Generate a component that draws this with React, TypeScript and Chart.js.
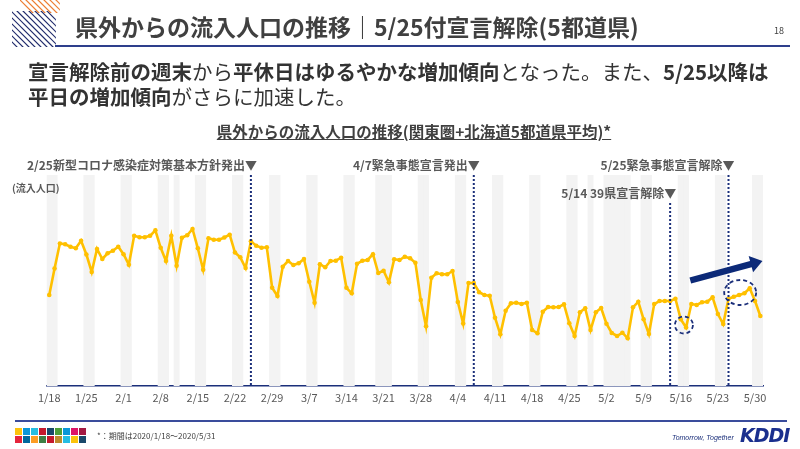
import React, { useEffect, useRef } from "react";
import { Chart, registerables } from "chart.js";

Chart.register(...registerables);

// Daily categories 1/18 .. 5/31 (2020)
const monthSpans: [number, number, number][] = [
  [1, 18, 31],
  [2, 1, 29],
  [3, 1, 31],
  [4, 1, 30],
  [5, 1, 31],
];
const days: string[] = monthSpans.flatMap(([m, from, to]) =>
  Array.from({ length: to - from + 1 }, (_, k) => `${m}/${from + k}`)
);

// Inflow index (average of 5 prefectures), one value per day
const inflow: number[] = [
  91, 117.5, 142.5, 141.8, 139.3, 137.8, 145.3, 131.5, 114, 137,
  127, 132.7, 135.3, 139.3, 131.8, 121.3, 150.2, 148.8, 148.8, 150.2,
  155.7, 138.2, 125, 150.3, 120.3, 148.3, 150.7, 157, 137.7, 116.3,
  147.8, 146.3, 146.3, 148.5, 151.3, 133.5, 128.7, 118, 144.7, 140.3,
  138.3, 138.7, 98.3, 90, 119.3, 125, 121, 122.7, 127, 104.3,
  83.3, 121.8, 118.7, 125, 125.3, 128.3, 98.2, 92.7, 122.2, 125.3,
  126, 131.8, 113, 115.3, 103.8, 126.7, 126, 129.3, 127.7, 123.3,
  86, 59.7, 108.3, 112.7, 111.7, 111.7, 115, 84, 62.5, 103,
  103, 93.8, 91, 90.2, 68.3, 51.7, 75.3, 82.7, 83.3, 82,
  83.3, 56, 52.7, 74.3, 79, 78.7, 79, 81.7, 62.7, 50,
  73.7, 77.7, 56, 73.7, 78, 62.3, 53, 50, 53.3, 47.7,
  78.7, 84.3, 66.7, 52, 82, 85, 85, 85, 87.3, 66.7,
  58.5, 82, 81, 83.7, 84.3, 88.7, 72, 62, 87.3, 89.3,
  91, 92.7, 97.7, 85, 70,
];

// Weekends and public holidays (shaded)
const offDays: string[] = [
  "1/18", "1/19", "1/25", "1/26", "2/1", "2/2", "2/8", "2/9", "2/11",
  "2/15", "2/16", "2/22", "2/23", "2/29", "3/1", "3/7", "3/8", "3/14",
  "3/15", "3/20", "3/21", "3/22", "3/28", "3/29", "4/4", "4/5", "4/11",
  "4/12", "4/18", "4/19", "4/25", "4/26", "4/29", "5/2", "5/3", "5/4",
  "5/5", "5/6", "5/9", "5/10", "5/16", "5/17", "5/23", "5/24", "5/30", "5/31",
];

// Labelled ticks on the date axis
const tickLabels: string[] = [
  "1/18", "1/25", "2/1", "2/8", "2/15", "2/22", "2/29", "3/7", "3/14", "3/21",
  "3/28", "4/4", "4/11", "4/18", "4/25", "5/2", "5/9", "5/16", "5/23", "5/30",
];

// Policy events marked with dotted lines
const events = [
  { date: "2/25", text: "2/25新型コロナ感染症対策基本方針発出", row: 0 },
  { date: "4/7", text: "4/7緊急事態宣言発出", row: 0 },
  { date: "5/14", text: "5/14 39県宣言解除", row: 1 },
  { date: "5/25", text: "5/25緊急事態宣言解除", row: 0 },
];

const Y_MAX = 211;
const NAVY = "#1B2F7A";
const JP = "'Noto Sans CJK JP', 'Noto Sans', sans-serif";

const markPlugin = {
  id: "marks",
  afterDatasetsDraw(chart: any) {
    const { ctx, scales, chartArea } = chart;
    const xs = scales.x;
    const ys = scales.y;
    ctx.save();

    // dotted event lines with their captions
    ctx.font = `bold 12px ${JP}`;
    const triW = ctx.measureText("▼").width;
    events.forEach((ev) => {
      const x = xs.getPixelForValue(days.indexOf(ev.date));
      const top = ev.row === 0 ? chartArea.top : chartArea.top + 28;
      ctx.strokeStyle = NAVY;
      ctx.lineWidth = 2;
      ctx.setLineDash([2, 2]);
      ctx.beginPath();
      ctx.moveTo(x, top);
      ctx.lineTo(x, chartArea.bottom);
      ctx.stroke();
      ctx.setLineDash([]);
      ctx.fillStyle = "#595959";
      ctx.textAlign = "right";
      ctx.textBaseline = "middle";
      ctx.fillText(ev.text + "▼", x + triW / 2, top - 10);
    });

    // dashed highlight rings
    ctx.strokeStyle = NAVY;
    ctx.lineWidth = 1.8;
    ctx.setLineDash([4, 3]);
    const ring = (idx: number, val: number, rx: number, ry: number) => {
      ctx.beginPath();
      ctx.ellipse(xs.getPixelForValue(idx), ys.getPixelForValue(val), rx, ry, 0, 0, Math.PI * 2);
      ctx.stroke();
    };
    ring(119.6, 61, 9, 8.5);
    ring(130.2, 93.5, 16, 12.5);
    ctx.setLineDash([]);

    // trend arrow
    const x0 = xs.getPixelForValue(120.8);
    const y0 = ys.getPixelForValue(105.5);
    const x1 = xs.getPixelForValue(134.4);
    const y1 = ys.getPixelForValue(125);
    const ang = Math.atan2(y1 - y0, x1 - x0);
    const len = Math.hypot(x1 - x0, y1 - y0);
    const shaft = 3.2;
    const headL = 12;
    const headW = 8.5;
    ctx.translate(x0, y0);
    ctx.rotate(ang);
    ctx.fillStyle = "#0C2A78";
    ctx.beginPath();
    ctx.moveTo(0, -shaft);
    ctx.lineTo(len - headL, -shaft);
    ctx.lineTo(len - headL, -headW);
    ctx.lineTo(len, 0);
    ctx.lineTo(len - headL, headW);
    ctx.lineTo(len - headL, shaft);
    ctx.lineTo(0, shaft);
    ctx.closePath();
    ctx.fill();
    ctx.restore();
  },
};

function InflowChart() {
  const ref = useRef<HTMLCanvasElement | null>(null);
  useEffect(() => {
    if (!ref.current) return;
    const chart = new Chart(ref.current, {
      type: "bar",
      data: {
        labels: days,
        datasets: [
          {
            type: "line",
            label: "流入人口",
            data: inflow,
            borderColor: "#FFC000",
            backgroundColor: "#FFC000",
            borderWidth: 2.6,
            pointRadius: 2.3,
            pointBorderWidth: 0,
            pointBackgroundColor: "#FFC000",
            tension: 0,
            order: 1,
          } as any,
          {
            type: "bar",
            label: "休日",
            data: days.map((d) => (offDays.includes(d) ? Y_MAX : null)),
            backgroundColor: "#F3F3F3",
            barPercentage: 1,
            categoryPercentage: 1,
            order: 2,
          },
        ],
      },
      options: {
        responsive: false,
        animation: false,
        events: [],
        layout: { padding: { left: 46.6, right: 37, top: 175, bottom: 33 } },
        plugins: {
          legend: { display: false },
          tooltip: { enabled: false },
        },
        scales: {
          x: {
            offset: true,
            grid: { display: false, drawTicks: false },
            border: { color: NAVY, width: 1.6 },
            ticks: {
              autoSkip: false,
              maxRotation: 0,
              padding: 5,
              color: "#595959",
              font: { family: JP, size: 11 },
              callback: (_v: any, i: number) => (tickLabels.includes(days[i]) ? days[i] : ""),
            },
            afterFit: (s: any) => {
              s.height = 30;
            },
          },
          y: { display: false, min: 0, max: Y_MAX },
        },
      },
      plugins: [markPlugin],
    });
    return () => chart.destroy();
  }, []);
  return (
    <canvas
      ref={ref}
      width={800}
      height={449}
      style={{ position: "absolute", left: 0, top: 0, width: 800, height: 449 }}
    />
  );
}

const mosaicTop = ["#FCC30B", "#0A97D9", "#26BDE2", "#C5192D", "#19486A", "#4C9F38", "#0A97D9", "#DD1367", "#A21942"];
const mosaicBottom = ["#E5243B", "#00689D", "#FD9D24", "#3F7E44", "#C5192D", "#BF8B2E", "#26BDE2", "#FCC30B", "#19486A"];

export default function App() {
  const abs = (s: React.CSSProperties): React.CSSProperties => ({ position: "absolute", ...s });
  return (
    <div style={abs({ left: 0, top: 0, width: 800, height: 449, background: "#fff", overflow: "hidden", fontFamily: JP })}>
      <InflowChart />

      {/* corner stripes */}
      <svg width={64} height={50} style={abs({ left: 0, top: 0 })}>
        <defs>
          <clipPath id="cOr"><rect x={20} y={0} width={40} height={13} /></clipPath>
          <clipPath id="cNv"><rect x={12} y={11} width={44} height={36} /></clipPath>
        </defs>
        <g clipPath="url(#cOr)" stroke="#ED7D31" strokeWidth={1.2}>
          {[0, 1, 2, 3, 4, 5, 6].map((k) => (
            <line key={k} x1={10 + k * 6} y1={-10} x2={40 + k * 6} y2={20} />
          ))}
        </g>
        <g clipPath="url(#cNv)" stroke="#1F2A6B" strokeWidth={1.2}>
          {[0, 1, 2, 3, 4, 5, 6, 7, 8, 9, 10, 11].map((k) => (
            <line key={k} x1={-30 + k * 6} y1={0} x2={20 + k * 6} y2={50} />
          ))}
        </g>
      </svg>

      <div style={abs({ left: 75, top: 15, fontSize: 23, fontWeight: 700, color: "#404040", lineHeight: 1, whiteSpace: "nowrap" })}>
        県外からの流入人口の推移｜5/25付宣言解除(5都道県)
      </div>
      <div style={abs({ left: 774, top: 26, fontSize: 9, color: "#404040", lineHeight: 1 })}>18</div>
      <div style={abs({ left: 55, top: 45, width: 735, height: 1.5, background: "#2E3F8C" })} />

      <div style={abs({ left: 28, top: 59, width: 770, fontSize: 20.5, lineHeight: "25px", color: "#333333", whiteSpace: "nowrap" })}>
        <b>宣言解除前の週末</b>から<b>平休日はゆるやかな増加傾向</b>となった。また、<b>5/25以降は</b>
        <br />
        <b>平日の増加傾向</b>がさらに加速した。
      </div>

      <div style={abs({ left: 0, width: 828, top: 122, textAlign: "center", fontSize: 15.5, fontWeight: 700, color: "#404040", lineHeight: 1.2, whiteSpace: "nowrap" })}>
        <span style={{ textDecoration: "underline" }}>県外からの流入人口の推移(関東圏+北海道5都道県平均)*</span>
      </div>

      <div style={abs({ left: 12, top: 182, fontSize: 10, fontWeight: 700, color: "#595959", lineHeight: 1.2 })}>(流入人口)</div>

      <div style={abs({ left: 15, top: 420, width: 772, height: 1.5, background: "#3A4C9C" })} />
      <div style={abs({ left: 15, top: 428, display: "grid", gridTemplateColumns: "repeat(9, 7px)", gap: 1 })}>
        {[...mosaicTop, ...mosaicBottom].map((c, i) => (
          <div key={i} style={{ width: 7, height: 7, background: c }} />
        ))}
      </div>
      <div style={abs({ left: 97, top: 431, fontSize: 8, color: "#404040", lineHeight: 1.2 })}>*：期間は2020/1/18～2020/5/31</div>
      <div style={abs({ left: 672, top: 434, fontSize: 7, fontStyle: "italic", color: "#1B2F7A", lineHeight: 1, fontFamily: "'Liberation Sans', sans-serif" })}>
        Tomorrow, Together
      </div>
      <div style={abs({ left: 740, top: 426, fontSize: 19, fontStyle: "italic", fontWeight: 900, color: "#1A2F8E", lineHeight: 1, fontFamily: "'DejaVu Sans', sans-serif", letterSpacing: -1 })}>
        KDDI
      </div>
    </div>
  );
}
